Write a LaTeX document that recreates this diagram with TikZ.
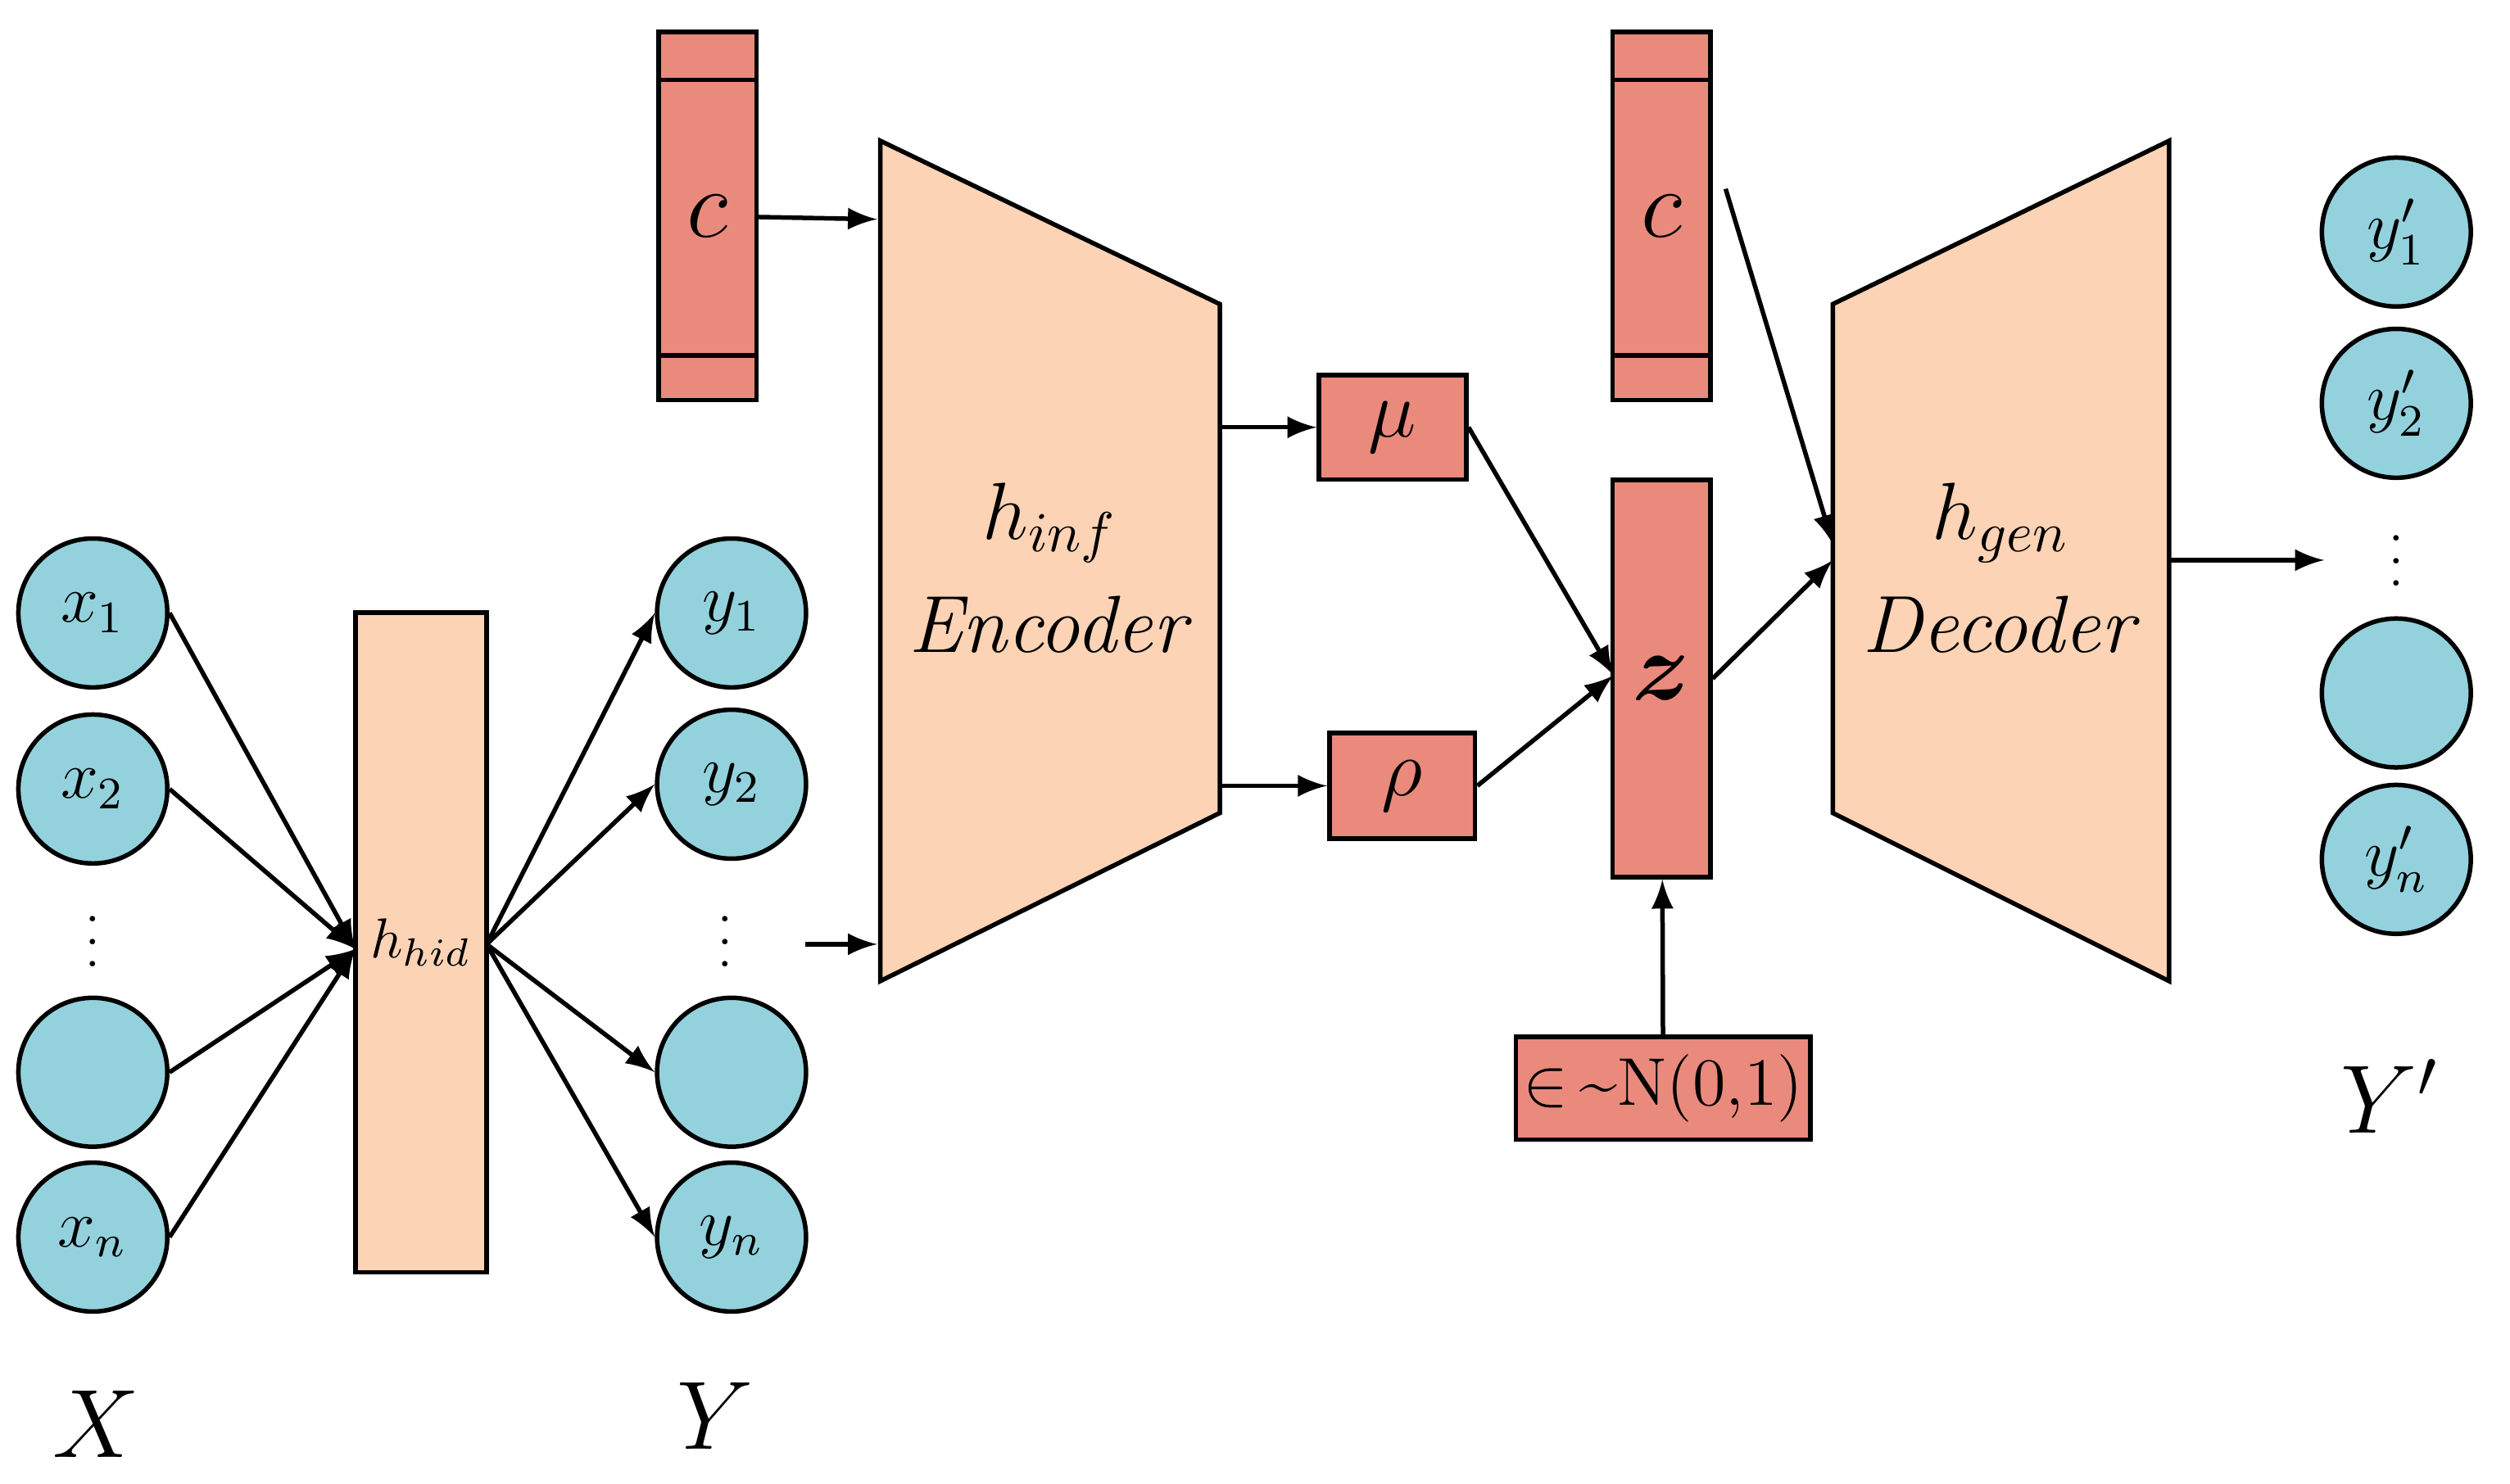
\documentclass[tikz,border=0pt]{standalone}
\usepackage{amsmath}
\usepackage{bm}
\usetikzlibrary{positioning}
\definecolor{cyanfill}{HTML}{93D2DD}
\definecolor{peach}{HTML}{FDD3B5}
\definecolor{redbox}{HTML}{E98A7D}
\begin{document}
\begin{tikzpicture}[
    x=0.01cm, y=-0.01cm,
    neuron/.style={draw, thick, fill=cyanfill, circle, minimum size=0.93cm, inner sep=0pt, font=\large},
    redrect/.style={draw, thick, fill=redbox, inner sep=0pt},
    peachrect/.style={draw, thick, fill=peach, inner sep=0pt},
    arr/.style={-latex, thick}
]
\useasboundingbox (0,0) rectangle (1568,927);

% left input neurons
\node[neuron] (x1) at (58,383) {$x_1$};
\node[neuron] (x2) at (58,493) {$x_2$};
\node[neuron] (x3) at (58,670) {};
\node[neuron] (x4) at (58,773) {$x_n$};
\node[font=\small, inner sep=0pt] at (58,578) {$\vdots$};
\node[font=\LARGE] (X) at (60,890) {$X$};

% hidden layer
\node[peachrect, minimum width=0.82cm, minimum height=4.12cm] (hid) at (263,589) {$h_{hid}$};
\coordinate (hidin) at (222,593);
\coordinate (hidout) at (304,590);

% output neurons
\node[neuron] (y1) at (457,383) {$y_1$};
\node[neuron] (y2) at (457,490) {$y_2$};
\node[neuron] (y3) at (457,670) {};
\node[neuron] (y4) at (457,773) {$y_n$};
\node[font=\small, inner sep=0pt] at (453,578) {$\vdots$};
\node[font=\LARGE] (Y) at (447,885) {$Y$};

\foreach \i in {1,...,4}{
  \draw[arr] (x\i.east) -- (hidin);
  \draw[arr] (hidout) -- (y\i.west);
}

% condition c (encoder)
\node[redrect, minimum width=0.61cm, minimum height=2.3cm, font=\LARGE] (c1) at (442,135) {$c$};
\draw[thick] (412,50) -- (473,50) (412,222) -- (473,222);

% encoder
\draw[thick, fill=peach] (550,88) -- (762,190) -- (762,508) -- (550,613) -- cycle;
\node[font=\Large, align=center] (enc) at (656,355) {$h_{inf}$\\[2pt]\textit{Encoder}};
\coordinate (encc) at (548,137);
\coordinate (ency) at (548,590);
\coordinate (yin) at (503,590);
\coordinate (encmu) at (762,267);
\coordinate (encrho) at (762,491);
\draw[arr] (c1) -- (encc);
\draw[arr] (yin) -- (ency);

% mu, rho
\node[redrect, minimum width=0.92cm, minimum height=0.65cm, font=\Large] (mu) at (870,267) {$\mu$};
\node[redrect, minimum width=0.91cm, minimum height=0.66cm, font=\Large] (rho) at (876,491) {$\rho$};
\draw[arr] (encmu) -- (mu);
\draw[arr] (encrho) -- (rho);

% latent z
\node[redrect, minimum width=0.61cm, minimum height=2.48cm, font=\LARGE] (z) at (1038,424) {$\bm{z}$};
\coordinate (zin) at (1008,422);
\draw[arr] (mu.east) -- (zin);
\draw[arr] (rho.east) -- (zin);

% noise
\node[redrect, minimum width=1.84cm, minimum height=0.64cm, font=\large] (eps) at (1039,680) {$\in$\,\textasciitilde N(0,1)};
\draw[arr] (eps) -- (z);

% condition c (decoder)
\node[redrect, minimum width=0.61cm, minimum height=2.3cm, font=\LARGE] (c2) at (1038,135) {$c$};
\draw[thick] (1008,50) -- (1069,50) (1008,222) -- (1069,222);

% decoder
\draw[thick, fill=peach] (1145,190) -- (1355,88) -- (1355,613) -- (1145,508) -- cycle;
\node[font=\Large, align=center] (dec) at (1250,355) {$h_{gen}$\\[2pt]\textit{Decoder}};
\coordinate (cstart) at (1078,118);
\coordinate (decc) at (1145,340);
\coordinate (decz) at (1145,350);
\coordinate (decout) at (1355,350);
\coordinate (yout) at (1452,350);
\draw[arr] (cstart) -- (decc);
\draw[arr] (z.east) -- (decz);
\draw[arr] (decout) -- (yout);

% reconstructed outputs
\node[neuron] (r1) at (1497,145) {$y'_1$};
\node[neuron] (r2) at (1497,252) {$y'_2$};
\node[neuron] (r3) at (1497,433) {};
\node[neuron] (r4) at (1497,537) {$y'_n$};
\node[font=\small, inner sep=0pt] at (1497,340) {$\vdots$};
\node[font=\LARGE] (Yp) at (1493,685) {$Y'$};
\end{tikzpicture}
\end{document}
